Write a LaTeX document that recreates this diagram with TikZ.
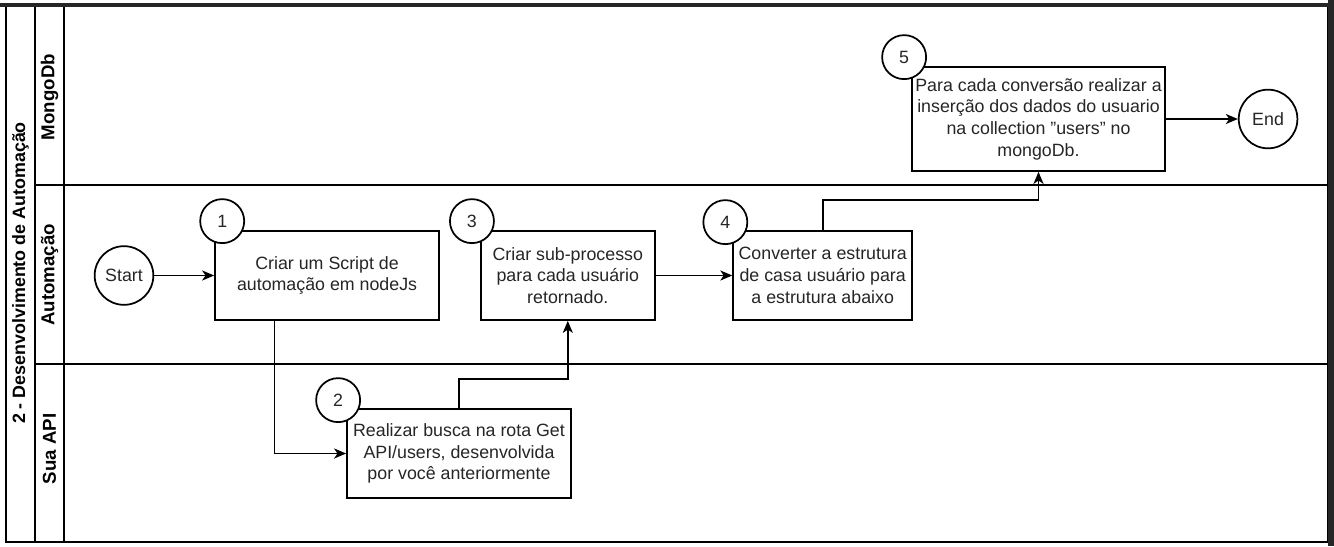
\documentclass[tikz,border=0pt]{standalone}
\usepackage{fontspec}
\setmainfont{Liberation Sans}
\usetikzlibrary{arrows.meta}
\usetikzlibrary{positioning}

\tikzset{
  task/.style={draw,rectangle,fill=white,line width=1.3pt,inner sep=0pt,
    minimum height=66.75pt,align=center,text=black!85,
    font=\fontsize{13.35}{16.3}\selectfont},
  num/.style={draw,circle,fill=white,line width=1.3pt,inner sep=0pt,
    minimum size=33pt,text=black!85,font=\fontsize{13.35}{16}\selectfont},
  term/.style={num,minimum size=44pt},
  lane/.style={rotate=90,font=\bfseries\fontsize{14}{16}\selectfont},
  flow/.style={draw,line width=1.3pt,->,>={Stealth[length=9pt,width=7.5pt,inset=2.5pt]}},
}

\begin{document}
\begin{tikzpicture}[x=0.75pt,y=-0.75pt]

  \useasboundingbox (0,0) rectangle (1334,546);

  % pool and lanes
  \draw [line width=1.3pt] (6,5) rectangle (1328,542);
  \draw [line width=1.3pt]
    (35,5) -- (35,542)
    (64,5) -- (64,542)
    (35,185) -- (1328,185)
    (35,364) -- (1328,364);
  \draw [line width=3pt,black!85] (0,5) -- (1334,5);
  \draw [line width=4.5pt,black!85] (1331,0) -- (1331,546);

  \node [lane,font=\bfseries\fontsize{13.4}{16}\selectfont] (pool) at (20.5,273) {2 - Desenvolvimento de Automação};
  \node [lane] (lane_mongo) at (49.5,97)    {MongoDb};
  \node [lane] (lane_auto)  at (49.5,275) {Automação};
  \node [lane] (lane_api)   at (49.5,449)   {Sua API};

  % steps
  \node [term] (start) at (124,275.5) {Start};
  \node [task,minimum width=168pt,right=45pt of start] (task_1)
    {Criar um Script de\\automação em nodeJs};
  \node [task,minimum width=130.5pt,right=30pt of task_1] (task_3)
    {Criar sub-processo\\para cada usuário\\retornado.};
  \node [task,minimum width=134.25pt,right=57.5pt of task_3] (task_4)
    {Converter a estrutura\\de casa usuário para\\a estrutura abaixo};
  \node [task,minimum width=168pt] (task_2) at (459,453.5)
    {Realizar busca na rota Get\\API/users, desenvolvida\\por você anteriormente};
  \node [task,minimum width=189.75pt,minimum height=78pt] (task_5) at (1038.5,119)
    {Para cada conversão realizar a\\inserção dos dados do usuario\\na collection \symbol{34}users\symbol{34} no\\mongoDb.};
  \node [term,right=54pt of task_5] (end) {End};

  \node [num] (num_1) at ([shift={(8,-9)}]task_1.north west)  {1};
  \node [num] (num_2) at ([shift={(-8,-8)}]task_2.north west) {2};
  \node [num] (num_3) at ([shift={(-8,-9)}]task_3.north west) {3};
  \node [num] (num_4) at ([shift={(-7,-8)}]task_4.north west) {4};
  \node [num] (num_5) at ([shift={(-7,-9)}]task_5.north west) {5};

  % connectors
  \path [flow]
    (start)  edge (task_1)
    (task_3) edge (task_4)
    (task_5) edge (end);
  \draw [flow] ([shift={(-52.5,0)}]task_1.south) |- (task_2);
  \draw [flow] (task_2.north) -- ++(0,-29) -| (task_3.south);
  \draw [flow] (task_4.north) -- ++(0,-30) -| (task_5.south);

\end{tikzpicture}
\end{document}
